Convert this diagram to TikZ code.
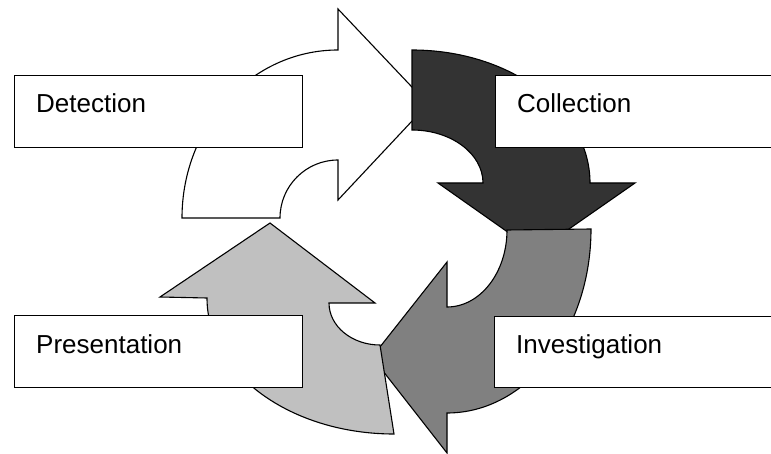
\documentclass[tikz,border=0pt]{standalone}
\usepackage{fontspec}
\setmainfont{Liberation Sans}
\definecolor{stageDark}{HTML}{333333}
\definecolor{stageMid}{HTML}{808080}
\definecolor{stageLight}{HTML}{C0C0C0}
\begin{document}
\begin{tikzpicture}[x=1pt,y=-1pt,
  stage/.style={draw=black, line width=1.1pt, line join=miter},
  labelbox/.style={draw=black, fill=white, line width=1.1pt, anchor=north west, inner sep=0pt, minimum width=\boxW pt, minimum height=72pt},
  labeltext/.style={anchor=base west, inner sep=0pt, font=\fontsize{26}{30}\selectfont}]
% Parameters
\def\boxW{288};
\def\textDx{22pt};
\def\textDy{-38pt};

\useasboundingbox (0,0) rectangle (771,454);

% Detection arrow
\draw[stage, fill=white] (182,218) arc[start angle=180, end angle=270, x radius=156, y radius=168]
  -- (338,9) -- (428,104) -- (338,200) -- (338,160)
  arc[start angle=270, end angle=180, x radius=58, y radius=58] -- cycle;

% Collection arrow
\draw[stage, fill=stageDark] (412,50) arc[start angle=270, end angle=360, x radius=178, y radius=133]
  -- (635,183) -- (536,252) -- (438,183) -- (483,183)
  arc[start angle=0, end angle=-90, x radius=71, y radius=53] -- cycle;

% Investigation arrow
\draw[stage, fill=stageMid] (591,229) arc[start angle=0, end angle=90, x radius=144, y radius=184]
  -- (447,453) -- (372,357) -- (447,262) -- (447,307)
  arc[start angle=90, end angle=0, x radius=60, y radius=77] -- cycle;

% Presentation arrow
\draw[stage, fill=stageLight] (394,434) arc[start angle=90, end angle=180, x radius=187, y radius=136]
  -- (160,297) -- (270,223) -- (375,303) -- (329,303)
  arc[start angle=180, end angle=90, x radius=51, y radius=42] -- cycle;

% Label boxes
\node[labelbox] (detection) at (14,75) {};
\node[labelbox, minimum width=280pt] (collection) at (495,75) {};
\node[labelbox, minimum width=280pt, minimum height=71pt] (investigation) at (494,316) {};
\node[labelbox] (presentation) at (14,315) {};

\node[labeltext] (detectionText) at ([xshift=\textDx, yshift=\textDy]detection.north west) {Detection};
\node[labeltext] (collectionText) at ([xshift=\textDx, yshift=\textDy]collection.north west) {Collection};
\node[labeltext] (investigationText) at ([xshift=\textDx, yshift=\textDy+1pt]investigation.north west) {Investigation};
\node[labeltext] (presentationText) at ([xshift=\textDx, yshift=\textDy]presentation.north west) {Presentation};

\end{tikzpicture}
\end{document}
